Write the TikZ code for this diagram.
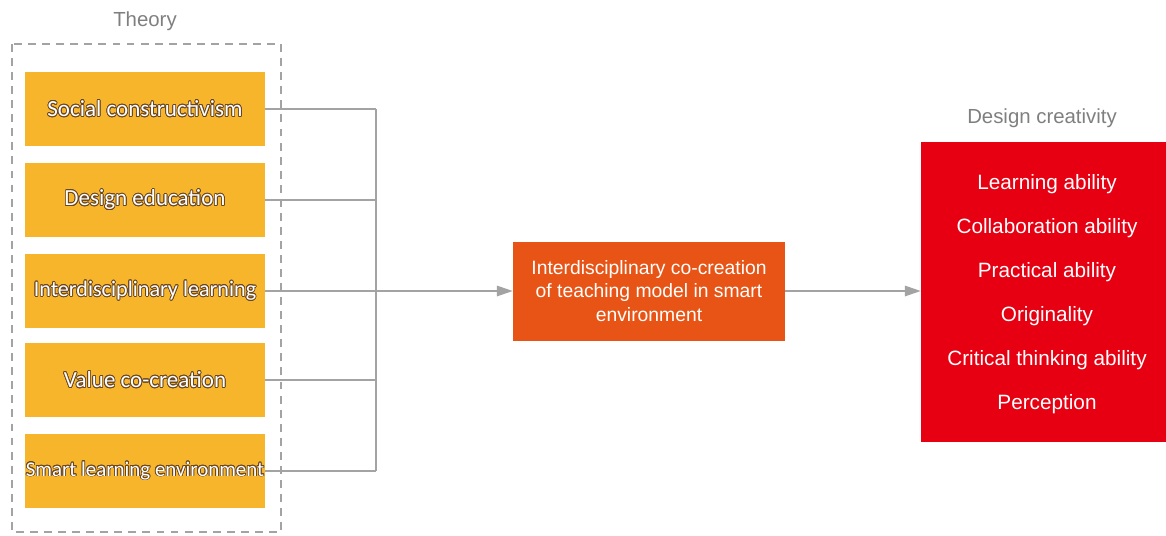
\documentclass[tikz,border=0pt]{standalone}
\usepackage{fontspec}
\setmainfont{Liberation Sans}
\newfontfamily\calfont{Carlito}
\usepackage{contour}
\contourlength{0.45pt}
\usetikzlibrary{arrows.meta}

\definecolor{theoryyellow}{HTML}{F7B52C}
\definecolor{modelorange}{HTML}{E85415}
\definecolor{creativered}{HTML}{E60012}
\definecolor{linegray}{HTML}{A3A3A3}
\definecolor{labelgray}{HTML}{7F7F7F}

\tikzset{
  theorybox/.style={fill=theoryyellow, minimum width=4.8cm, minimum height=1.48cm, inner sep=0pt,
    text=white, font=\calfont\fontsize{#1}{15}\selectfont},
  theorybox/.default=13.1,
  modelbox/.style={fill=modelorange, minimum width=5.44cm, minimum height=1.98cm, align=center,
    text=white, font=\fontsize{11}{13.2}\selectfont},
  creativebox/.style={fill=creativered, minimum width=5.04cm, minimum height=6.02cm, align=center,
    text=white, font=\fontsize{11.8}{25}\selectfont},
  grouplabel/.style={text=labelgray, font=\fontsize{11.6}{14}\selectfont},
  link/.style={draw=linegray, line width=0.8pt},
  arrowlink/.style={link, -{Triangle[length=9pt,width=6pt]}}
}
\newcommand{\outlined}[1]{\contour{black!45!brown}{#1}}

\begin{document}
\begin{tikzpicture}[x=0.02cm,y=-0.02cm]
\useasboundingbox (0,0) rectangle (1166,535);

% Theory
\node[grouplabel] (theory) at (145,21) {Theory};
\draw[linegray, line width=0.8pt, dash pattern=on 4.5pt off 3.5pt] (12,44) rectangle (281,532);

\node[theorybox] (social) at (145,109) {\outlined{Social constructivism}};
\node[theorybox] (design) at (145,200) {\outlined{Design education}};
\node[theorybox=12.6] (inter) at (145,291) {\outlined{Interdisciplinary learning}};
\node[theorybox] (value) at (145,380) {\outlined{Value co-creation}};
\node[theorybox=11.9] (smart) at (145,471) {\outlined{Smart learning environment}};

% Teaching model
\node[modelbox] (model) at (649,291) {Interdisciplinary co-creation\\of teaching model in smart\\environment};

% Design creativity
\node[grouplabel] (creativity) at (1042,118) {Design creativity};
\node[creativebox] (ability) at (1047,292) {};
\node[align=center, text=white, font=\fontsize{11.8}{25}\selectfont] (abilitylist) at (1047,294)
  {Learning ability\\Collaboration ability\\Practical ability\\Originality\\Critical thinking ability\\Perception};

% Connectors
\coordinate (bus) at (376,291);
\draw[link] (social.east) -- (social.east -| bus);
\draw[link] (design.east) -- (design.east -| bus);
\draw[link] (inter.east) -- (bus);
\draw[link] (value.east) -- (value.east -| bus);
\draw[link] (smart.east) -- (smart.east -| bus);
\draw[link] (social.east -| bus) -- (smart.east -| bus);
\draw[arrowlink] (bus) -- (model.west);
\draw[arrowlink] (model.east) -- (model.east -| ability.west);

\end{tikzpicture}
\end{document}
